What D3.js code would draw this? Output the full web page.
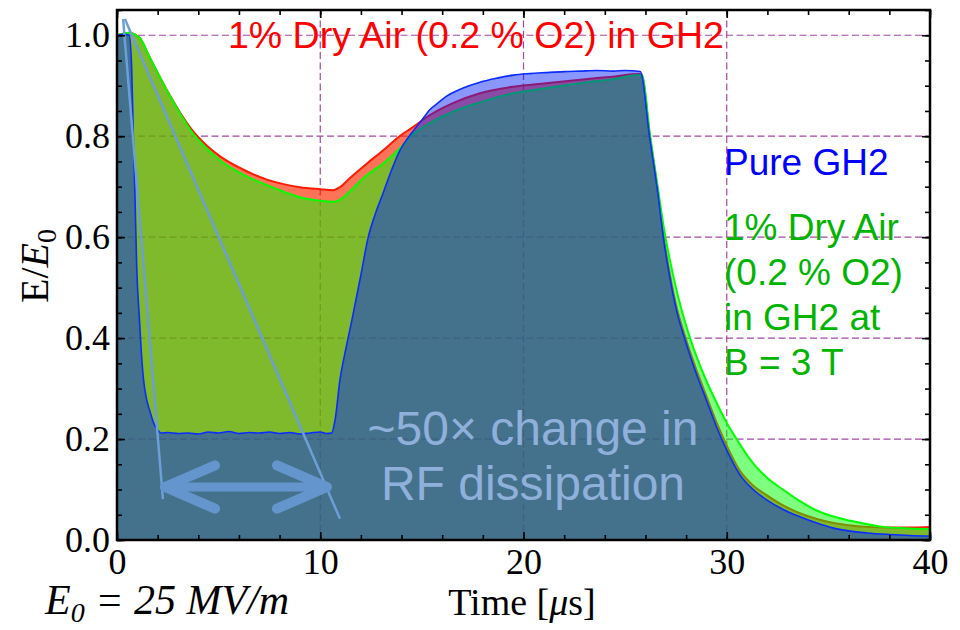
<!DOCTYPE html>
<html><head><meta charset="utf-8">
<script src="https://cdn.jsdelivr.net/npm/d3@7"></script>
<style>body{margin:0;background:#fff}</style>
</head><body><svg id="c" width="960" height="630"></svg>
<script>
// ---- data (time in µs, E/E0) ----
const timeBlue = [0,0.3,0.6,0.72,0.8,0.89,0.97,1.1,1.2,1.3,1.45,1.62,1.8,2.0,2.2,2.5,3,3.5,4,4.5,5,5.5,6,6.5,7,7.5,8,8.5,9,9.5,10,10.3,10.56,10.73,10.97,11.25,11.56,12.0,12.35,12.7,13.09,13.5,13.92,14.3,14.66,15.0,15.4,15.74,16.2,17.0,17.86,18.7,19.5,20.3,21.1,22.0,22.8,23.6,24.4,25.0,25.75,26.2,26.6,26.9,27.2,27.5,28.0,28.5,29.0,29.5,30.0,30.65,31.3,31.98,32.8,33.6,34.4,35.2,36.0,36.9,38,39,40];
const valBlue  = [1.0,1.002,1.0,0.937,0.805,0.673,0.541,0.44,0.37,0.32,0.28,0.255,0.232,0.218,0.212,0.213,0.211,0.212,0.210,0.214,0.212,0.215,0.211,0.213,0.212,0.214,0.211,0.213,0.210,0.212,0.214,0.211,0.212,0.238,0.317,0.377,0.436,0.525,0.598,0.645,0.687,0.732,0.772,0.796,0.815,0.832,0.853,0.864,0.879,0.895,0.907,0.915,0.921,0.924,0.926,0.928,0.929,0.930,0.929,0.930,0.928,0.8,0.69,0.594,0.52,0.46,0.39,0.33,0.277,0.224,0.178,0.129,0.1,0.079,0.06,0.046,0.034,0.024,0.018,0.014,0.011,0.009,0.008];

const timeRed = [0,0.6,0.9,1.13,1.6,2.1,2.6,3.1,3.74,4.4,5.07,6.2,7.38,8.2,9.0,10.0,10.63,10.97,11.46,12.3,13.1,13.9,14.56,15.4,16.5,17.86,19.5,21.1,22.8,24.4,25.7,25.82,26.2,26.6,26.9,27.2,27.5,28.0,28.5,29.0,29.5,30.0,30.65,31.3,32.0,32.8,33.6,34.4,35.2,36.0,36.9,38,39,40];
const valRed  = [1.0,1.005,1.001,0.994,0.957,0.918,0.881,0.847,0.81,0.782,0.76,0.734,0.714,0.705,0.699,0.695,0.693,0.699,0.717,0.746,0.772,0.8,0.818,0.842,0.865,0.885,0.898,0.905,0.912,0.918,0.923,0.922,0.805,0.695,0.6,0.527,0.467,0.397,0.338,0.285,0.233,0.187,0.137,0.108,0.088,0.068,0.053,0.042,0.034,0.029,0.026,0.025,0.025,0.026];

const timeGreen = [0,0.6,0.9,1.13,1.6,2.1,2.6,3.1,3.74,4.4,5.07,6.2,7.38,8.2,9.0,10.0,10.7,11.0,11.46,12.3,13.1,13.92,14.4,15.4,16.5,17.86,19.5,21.1,22.8,24.4,25.7,25.85,26.2,26.6,26.9,27.5,28.0,28.5,29.0,29.5,30.0,30.3,31.3,32.0,32.8,33.6,34.4,35.2,36.1,37.7,39,40];
const valGreen  = [1.0,1.005,1.001,0.994,0.957,0.918,0.88,0.845,0.805,0.776,0.752,0.724,0.703,0.69,0.679,0.672,0.67,0.675,0.691,0.723,0.746,0.776,0.798,0.826,0.848,0.867,0.885,0.895,0.905,0.913,0.921,0.92,0.81,0.7,0.62,0.5,0.425,0.365,0.315,0.272,0.232,0.212,0.152,0.123,0.099,0.077,0.059,0.047,0.038,0.026,0.023,0.022];

const xTickValues = [0,10,20,30,40];
const yTickValues = [0,0.2,0.4,0.6,0.8,1.0];
const xMinorTicks = d3.range(0,40.01,2);
const yMinorTicks = d3.range(0,1.051,0.05);

// annotation geometry in data units
const guide1 = [[0.3,1.032],[2.26,0.081]];
const guide2 = [[0.39,1.032],[10.97,0.042]];
const arrowT = [2.36,10.33], arrowV = 0.105, headDT = 2.46, headDV = 0.043;

// ---- chart ----
const svg = d3.select("#c");
const x = d3.scaleLinear().domain([0,40]).range([117,930]);
const y = d3.scaleLinear().domain([0,1.05]).range([540,10]);

// grid
const grid = svg.append("g").attr("stroke","#a448a4").attr("stroke-width",1.2).attr("stroke-dasharray","7,3.5");
[10,20,30].forEach(t=>grid.append("line").attr("x1",x(t)).attr("x2",x(t)).attr("y1",y(1.05)).attr("y2",y(0)));
[0.2,0.4,0.6,0.8,1.0].forEach(v=>grid.append("line").attr("x1",x(0)).attr("x2",x(40)).attr("y1",y(v)).attr("y2",y(v)));

const series = [
  {t:timeRed, v:valRed, fill:"rgba(255,40,0,0.65)", line:"#ff1a00", w:2},
  {t:timeGreen, v:valGreen, fill:"rgba(0,255,0,0.5)", line:"#00ff00", w:2},
  {t:timeBlue, v:valBlue, fill:"rgba(0,29,255,0.46)", line:"#0a2cff", w:1.6}
];
const area = d3.area().x(d=>x(d[0])).y0(y(0)).y1(d=>y(d[1])).curve(d3.curveMonotoneX);
const line = d3.line().x(d=>x(d[0])).y(d=>y(d[1])).curve(d3.curveMonotoneX);
series.forEach(s=>{
  const pts = s.t.map((t,i)=>[t,s.v[i]]);
  svg.append("path").attr("d",area(pts)).attr("fill",s.fill);
  svg.append("path").attr("d",line(pts)).attr("fill","none").attr("stroke",s.line).attr("stroke-width",s.w);
});

// guide lines
[guide1,guide2].forEach(g=>svg.append("line")
  .attr("x1",x(g[0][0])).attr("y1",y(g[0][1])).attr("x2",x(g[1][0])).attr("y2",y(g[1][1]))
  .attr("stroke","#6b9fd6").attr("stroke-width",2.5));

// double arrow
const ar = svg.append("g").attr("stroke","#6496cd").attr("stroke-linecap","round").attr("fill","none");
ar.append("line").attr("x1",x(arrowT[0])).attr("x2",x(arrowT[1])).attr("y1",y(arrowV)).attr("y2",y(arrowV)).attr("stroke-width",9);
ar.append("path").attr("stroke-width",10).attr("stroke-linejoin","round")
  .attr("d",`M${x(arrowT[0]+headDT)},${y(arrowV+headDV)}L${x(arrowT[0])},${y(arrowV)}L${x(arrowT[0]+headDT)},${y(arrowV-headDV)}`);
ar.append("path").attr("stroke-width",10).attr("stroke-linejoin","round")
  .attr("d",`M${x(arrowT[1]-headDT)},${y(arrowV+headDV)}L${x(arrowT[1])},${y(arrowV)}L${x(arrowT[1]-headDT)},${y(arrowV-headDV)}`);

// annotation texts
const sans = "'Liberation Sans', Arial, sans-serif";
svg.append("text").attr("x",228).attr("y",48).attr("font-family",sans).attr("font-size",37.5).attr("fill","#ff0000")
  .text("1% Dry Air (0.2 % O2) in GH2");
svg.append("text").attr("x",724).attr("y",175).attr("font-family",sans).attr("font-size",37).attr("fill","#0000ff").text("Pure GH2");
["1% Dry Air","(0.2 % O2)","in GH2 at","B = 3 T"].forEach((s,i)=>
  svg.append("text").attr("x",724).attr("y",240+i*45).attr("font-family",sans).attr("font-size",37).attr("fill","#00b400").text(s));
["~50× change in","RF dissipation"].forEach((s,i)=>
  svg.append("text").attr("x",533).attr("y",445+i*55).attr("text-anchor","middle").attr("font-family",sans).attr("font-size",48).attr("fill","#8fb0da").text(s));

// axes (inside ticks)
const serif = "'Liberation Serif', 'Times New Roman', serif";
function styleAxis(g){ g.select(".domain").remove(); g.selectAll("line").attr("stroke","#000").attr("stroke-width",1.6);
  g.selectAll("text").attr("font-family",serif).attr("font-size",36).attr("fill","#000"); }
svg.append("g").attr("transform",`translate(0,${y(0)})`).call(d3.axisBottom(x).tickValues(xMinorTicks).tickSize(-5).tickFormat("")).call(styleAxis);
svg.append("g").attr("transform",`translate(0,${y(0)})`).call(d3.axisBottom(x).tickValues(xTickValues).tickSize(-8).tickPadding(8).tickFormat(d3.format("d"))).call(styleAxis);
svg.append("g").attr("transform",`translate(0,${y(1.05)})`).call(d3.axisTop(x).tickValues(xMinorTicks).tickSize(-5).tickFormat("")).call(styleAxis);
svg.append("g").attr("transform",`translate(0,${y(1.05)})`).call(d3.axisTop(x).tickValues(xTickValues).tickSize(-8).tickFormat("")).call(styleAxis);
svg.append("g").attr("transform",`translate(${x(0)},0)`).call(d3.axisLeft(y).tickValues(yMinorTicks).tickSize(-5).tickFormat("")).call(styleAxis);
svg.append("g").attr("transform",`translate(${x(0)},0)`).call(d3.axisLeft(y).tickValues(yTickValues).tickSize(-8).tickPadding(7).tickFormat(d3.format(".1f"))).call(styleAxis);
svg.append("g").attr("transform",`translate(${x(40)},0)`).call(d3.axisRight(y).tickValues(yMinorTicks).tickSize(-5).tickFormat("")).call(styleAxis);
svg.append("g").attr("transform",`translate(${x(40)},0)`).call(d3.axisRight(y).tickValues(yTickValues).tickSize(-8).tickFormat("")).call(styleAxis);

// frame
svg.append("rect").attr("x",x(0)).attr("y",y(1.05)).attr("width",x(40)-x(0)).attr("height",y(0)-y(1.05))
  .attr("fill","none").attr("stroke","#000").attr("stroke-width",2.5);

// axis labels
const yl = svg.append("text").attr("transform","translate(48,266) rotate(-90)").attr("text-anchor","middle")
  .attr("font-family",serif).attr("font-size",40).attr("fill","#000");
yl.append("tspan").text("E/");
yl.append("tspan").attr("font-style","italic").text("E");
yl.append("tspan").attr("font-size",28).attr("dy",8).text("0");

const xl = svg.append("text").attr("x",522).attr("y",615).attr("text-anchor","middle")
  .attr("font-family",serif).attr("font-size",38).attr("fill","#000");
xl.append("tspan").text("Time [");
xl.append("tspan").attr("font-style","italic").text("μ");
xl.append("tspan").text("s]");

const e0 = svg.append("text").attr("x",45).attr("y",614).attr("font-family",serif).attr("font-style","italic")
  .attr("font-size",42).attr("fill","#000");
e0.append("tspan").text("E");
e0.append("tspan").attr("font-size",28).attr("dy",8).text("0");
e0.append("tspan").attr("dy",-8).text(" = 25 MV/m");
</script></body></html>
